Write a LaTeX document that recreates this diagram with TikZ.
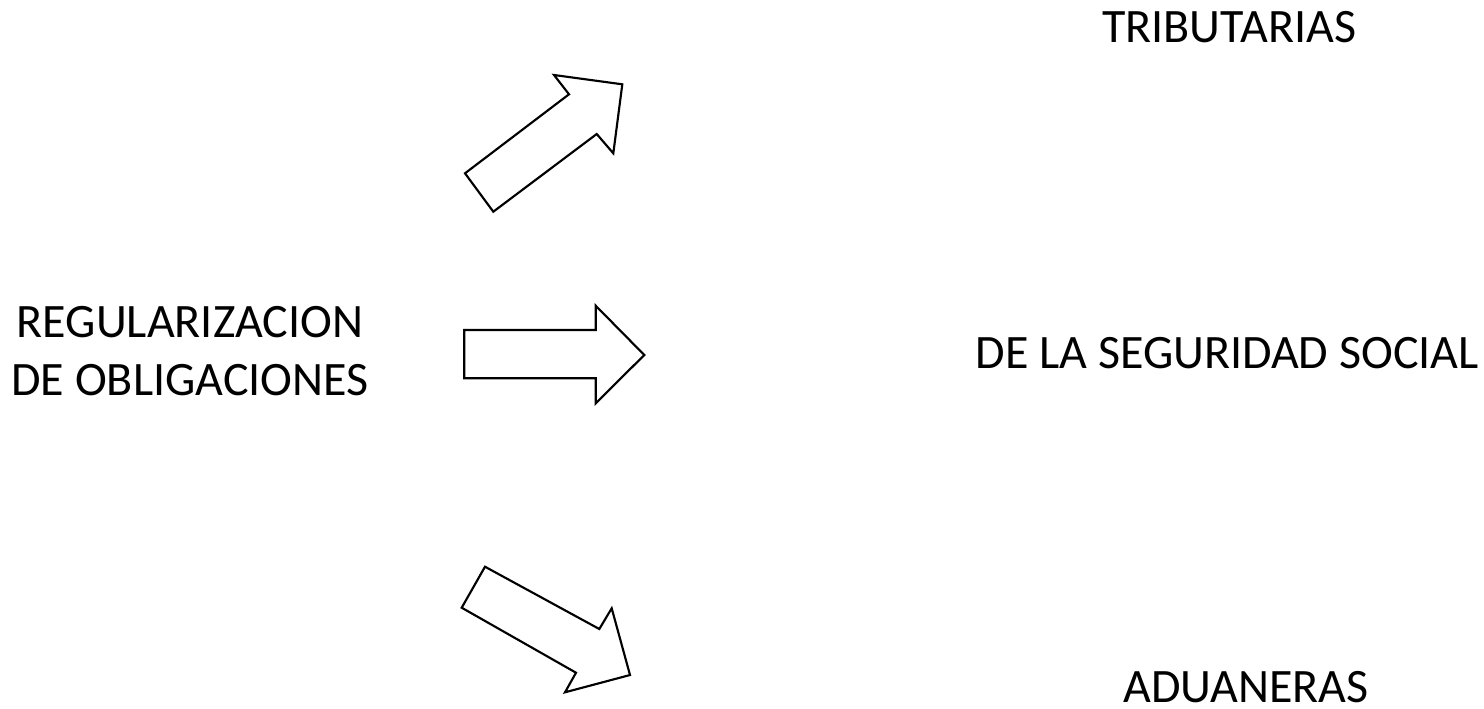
\documentclass[tikz,border=0pt]{standalone}
\usepackage{fontspec}
\setmainfont{Carlito}
\begin{document}
\begin{tikzpicture}[x=0.75pt,y=-0.75pt,
  blockarrow/.style={draw=black,line width=1.6pt,fill=white,line join=miter},
  label/.style={font=\fontsize{36}{43}\selectfont,inner sep=0pt}]
\useasboundingbox (0,0) rectangle (1484,708);
% labels
\node[label,align=center,anchor=base] (src) at (190,395) {REGULARIZACION\\DE OBLIGACIONES};
\node[label,anchor=base west] (trib) at (1102,42) {TRIBUTARIAS};
\node[label,anchor=base east] (seg) at (1479,368) {DE LA SEGURIDAD SOCIAL};
\node[label,anchor=base west] (adu) at (1123,702) {ADUANERAS};
% block arrows
\draw[blockarrow] (465,173.3) -- (569,94.3) -- (554,75) -- (622.3,84.3) -- (613.3,153.3) -- (596.7,134) -- (493.3,211.7) -- cycle;
\draw[blockarrow] (464.3,330) -- (595.7,330) -- (595.7,305.7) -- (644.3,355) -- (595.7,403.3) -- (595.7,378.3) -- (464.3,378.3) -- cycle;
\draw[blockarrow] (485,566.7) -- (599.3,629) -- (611.7,608.3) -- (630,675) -- (565,692.3) -- (576,672.7) -- (461.7,607.7) -- cycle;
\end{tikzpicture}
\end{document}
